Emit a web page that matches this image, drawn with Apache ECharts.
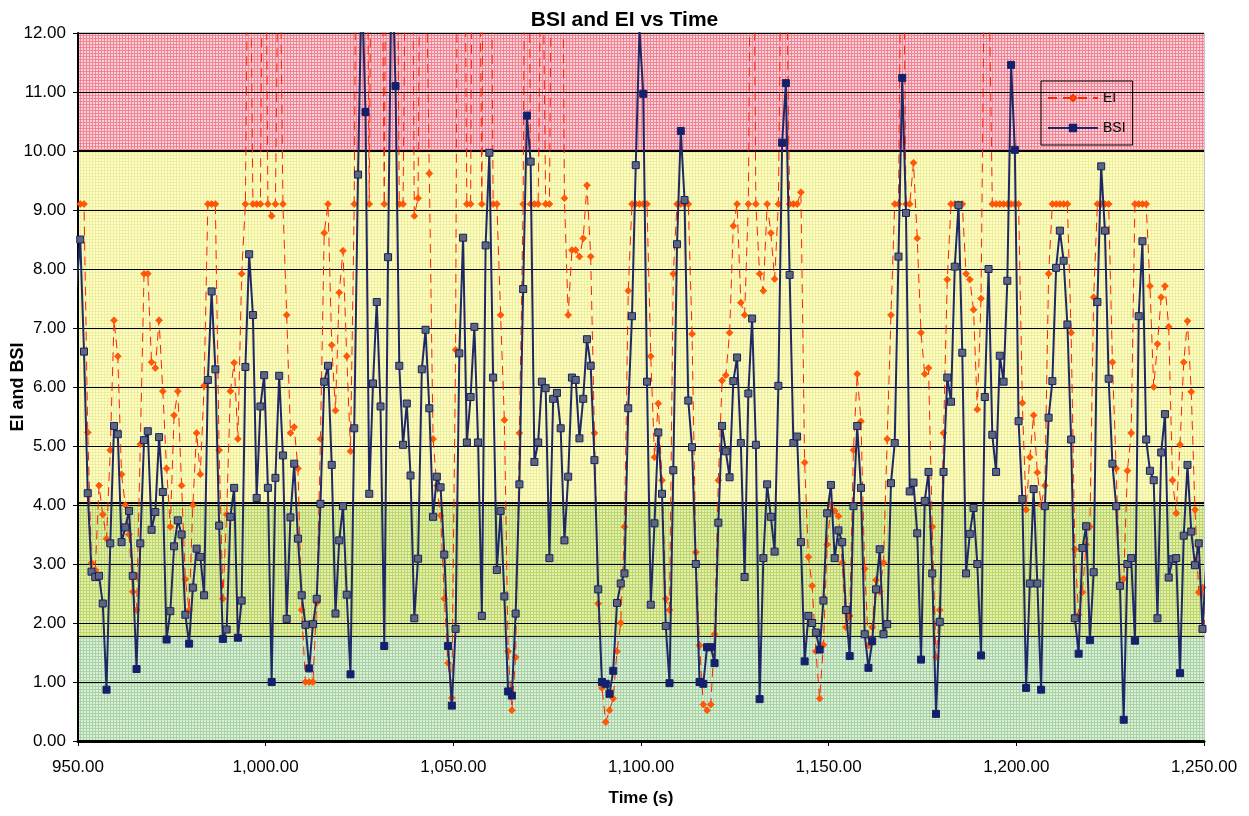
<!DOCTYPE html>
<html>
<head>
<meta charset="utf-8">
<title>BSI and EI vs Time</title>
<script src="https://cdn.jsdelivr.net/npm/echarts@6/dist/echarts.min.js"></script>
<style>
  html, body { margin: 0; padding: 0; background: #fff; }
  #chart { width: 1249px; height: 816px; }
</style>
</head>
<body>
<div id="chart"></div>
<script>
// samples are 1 s apart, first one just left of the axis start
const startTime = 949.6
const step = 1

const bsi = [
  7.7, 8.5, 6.6, 4.2, 2.87, 2.78, 2.8, 2.33, 0.87, 3.35,
  5.34, 5.2, 3.37, 3.62, 3.9, 2.8, 1.22, 3.35, 5.1, 5.25,
  3.58, 3.88, 5.15, 4.22, 1.72, 2.2, 3.3, 3.74, 3.5, 2.14,
  1.65, 2.6, 3.26, 3.12, 2.47, 6.12, 7.62, 6.3, 3.65, 1.73,
  1.89, 3.8, 4.29, 1.75, 2.38, 6.34, 8.25, 7.22, 4.12, 5.67,
  6.2, 4.29, 1.0, 4.46, 6.19, 4.84, 2.07, 3.79, 4.7, 3.43,
  2.47, 1.97, 1.23, 1.98, 2.41, 4.02, 6.09, 6.36, 4.68, 2.16,
  3.4, 3.98, 2.48, 1.13, 5.3, 9.6, 12.9, 10.66, 4.19, 6.06,
  7.44, 5.67, 1.61, 8.2, 13.4, 11.1, 6.36, 5.02, 5.72, 4.5,
  2.08, 3.09, 6.3, 6.97, 5.64, 3.8, 4.48, 4.3, 3.16, 1.61,
  0.6, 1.9, 6.57, 8.53, 5.06, 5.83, 7.02, 5.06, 2.12, 8.4,
  9.97, 6.16, 2.9, 3.9, 2.45, 0.84, 0.77, 2.16, 4.35, 7.66,
  10.6, 9.82, 4.73, 5.06, 6.09, 5.98, 3.1, 5.8, 5.9, 5.3,
  3.4, 4.48, 6.16, 6.12, 5.13, 5.8, 6.81, 6.36, 4.76, 2.57,
  1.0, 0.97, 0.8, 1.19, 2.34, 2.67, 2.84, 5.64, 7.2, 9.76,
  12.05, 10.97, 6.09, 2.31, 3.69, 5.23, 4.19, 1.95, 0.98, 4.59,
  8.42, 10.34, 9.17, 5.77, 4.98, 3.0, 1.0, 0.97, 1.59, 1.59,
  1.32, 3.7, 5.34, 4.91, 4.47, 6.1, 6.5, 5.05, 2.78, 5.89,
  7.16, 5.02, 0.71, 3.1, 4.35, 3.8, 3.21, 6.02, 10.14, 11.15,
  7.9, 5.05, 5.16, 3.37, 1.35, 2.12, 2.0, 1.84, 1.55, 2.38,
  3.86, 4.34, 3.1, 3.57, 3.37, 2.22, 1.44, 3.98, 5.34, 4.29,
  1.81, 1.24, 1.69, 2.57, 3.25, 1.81, 1.98, 4.37, 5.05, 8.21,
  11.24, 8.95, 4.23, 4.38, 3.52, 1.38, 4.07, 4.56, 2.84, 0.46,
  2.02, 4.56, 6.16, 5.75, 8.04, 9.08, 6.58, 2.84, 3.51, 3.95,
  3.0, 1.45, 5.83, 8.0, 5.19, 4.56, 6.53, 6.09, 7.8, 11.46,
  10.02, 5.42, 4.1, 0.9, 2.67, 4.27, 2.67, 0.87, 3.98, 5.48,
  6.1, 8.02, 8.65, 8.14, 7.06, 5.11, 2.08, 1.48, 3.27, 3.64,
  1.71, 2.86, 7.44, 9.74, 8.65, 6.14, 4.7, 3.98, 2.63, 0.36,
  3.0, 3.1, 1.7, 7.2, 8.47, 5.11, 4.58, 4.42, 2.08, 4.89,
  5.54, 2.77, 3.08, 3.1, 1.15, 3.48, 4.68, 3.55, 2.98, 3.35,
  1.9, 3.0
]

// values above 12 run off the top of the plot
const ei = [
  9.1, 9.1, 9.1, 5.23, 3.02, 2.9, 4.33, 3.84, 3.43, 4.93,
  7.13, 6.52, 4.52, 4.0, 3.5, 2.53, 2.22, 5.03, 7.92, 7.92,
  6.42, 6.32, 7.13, 5.93, 4.62, 3.63, 5.52, 5.93, 4.33, 2.74,
  2.22, 4.0, 5.22, 4.52, 6.02, 9.1, 9.1, 9.1, 4.93, 2.41,
  3.84, 5.93, 6.41, 5.12, 7.92, 9.1, 16, 9.1, 9.1, 9.1,
  18, 9.1, 8.9, 9.1, 15, 9.1, 7.22, 5.22, 5.32, 4.62,
  2.22, 1.0, 1.0, 1.0, 2.34, 5.12, 8.61, 9.1, 6.71, 5.6,
  7.6, 8.31, 6.52, 4.91, 9.1, 20, 22, 18, 9.1, 19,
  24, 17, 9.1, 21, 25, 18, 9.1, 9.1, 16, 20,
  8.9, 9.2, 19, 14, 9.62, 5.12, 4.33, 3.82, 2.41, 1.32,
  0.73, 6.63, 22, 18, 9.1, 9.1, 20, 17, 9.1, 24,
  19, 9.1, 9.1, 7.22, 5.44, 1.52, 0.52, 1.42, 5.22, 9.1,
  21, 9.1, 9.1, 9.1, 15, 9.1, 9.1, 17, 22, 19,
  9.2, 7.22, 8.32, 8.32, 8.21, 8.52, 9.42, 8.21, 5.22, 2.33,
  0.9, 0.32, 0.52, 0.72, 1.52, 2.0, 3.63, 7.63, 9.1, 9.1,
  9.1, 9.1, 9.1, 6.52, 4.81, 5.72, 4.42, 2.41, 2.22, 7.92,
  9.1, 9.1, 9.1, 9.1, 6.9, 3.2, 1.62, 0.62, 0.52, 0.62,
  1.81, 4.42, 6.11, 6.2, 6.92, 8.73, 9.1, 7.43, 7.22, 9.1,
  18, 9.1, 7.92, 7.63, 9.1, 8.61, 7.83, 9.1, 15, 14,
  9.1, 9.1, 9.1, 9.3, 4.72, 3.12, 2.63, 1.52, 0.72, 1.63,
  3.33, 4.0, 3.9, 3.81, 3.02, 1.93, 2.12, 4.93, 6.22, 5.42,
  2.92, 1.62, 1.93, 2.73, 2.53, 3.02, 5.12, 7.22, 9.1, 9.1,
  16, 9.1, 9.1, 9.8, 8.52, 6.92, 6.22, 6.32, 3.63, 1.42,
  2.22, 5.22, 7.82, 9.1, 9.1, 9.1, 9.1, 7.92, 7.82, 7.31,
  5.62, 7.5, 14, 13.5, 9.1, 9.1, 9.1, 9.1, 9.1, 9.1,
  9.1, 9.1, 5.73, 3.92, 4.81, 5.52, 4.55, 4.0, 4.33, 7.92,
  9.1, 9.1, 9.1, 9.1, 9.1, 6.92, 3.25, 2.14, 2.52, 3.33,
  3.63, 7.52, 9.1, 9.1, 9.1, 9.1, 6.42, 4.62, 2.63, 2.75,
  4.58, 5.22, 9.1, 9.1, 9.1, 9.1, 7.71, 6.0, 6.73, 7.52,
  7.71, 7.02, 4.42, 3.86, 5.02, 6.42, 7.12, 5.92, 3.92, 2.52,
  2.6, 1.5
]

// background zones: green / yellow-green / yellow / red
const bandLimits = [0, 1.78, 4.03, 10, 12]
const xMin = 950
const xMax = 1250
const xStep = 50
const yMin = 0
const yMax = 12
const yStep = 1

function hatch(bg, line) {
  const c = document.createElement("canvas")
  c.width = 3
  c.height = 3
  const g = c.getContext("2d")
  g.fillStyle = bg
  g.fillRect(0, 0, 3, 3)
  g.fillStyle = line
  g.fillRect(2, 0, 1, 3)
  g.fillRect(0, 2, 3, 1)
  return { image: c, repeat: "repeat" }
}

const bandFills = [
  hatch("#dcf0d8", "#a9d3a6"),
  hatch("#e6f0a6", "#bcd676"),
  hatch("#ffffc4", "#eeeea2"),
  hatch("#fbd0d6", "#ee8494"),
]

const bands = bandFills.map((fill, k) => [
  { yAxis: bandLimits[k], itemStyle: { color: fill } },
  { yAxis: bandLimits[k + 1] },
])

const NAVY = "#14206b"
const times = bsi.map((_, i) => +(startTime + i * step).toFixed(2))

const bsiData = bsi.map((v, i) => {
  const mid = v >= bandLimits[1] && v <= bandLimits[3]
  return mid
    ? { value: [times[i], v], itemStyle: { color: "#5f6678" } }
    : { value: [times[i], v] }
})
const eiData = ei.map((v, i) => [times[i], v])

const FONT = "Liberation Sans, Arial, sans-serif"
const chart = echarts.init(document.getElementById("chart"), null, { renderer: "canvas" })

chart.setOption({
  animation: false,
  backgroundColor: "#ffffff",
  textStyle: { fontFamily: FONT },
  title: {
    text: "BSI and EI vs Time",
    left: "center",
    top: 5,
    textStyle: { fontSize: 21, fontWeight: "bold", color: "#000", fontFamily: FONT },
  },
  legend: {
    orient: "vertical",
    left: 1041,
    top: 81,
    padding: [10, 7, 10, 6],
    itemWidth: 50,
    itemHeight: 8,
    itemGap: 16,
    borderColor: "#000",
    borderWidth: 1,
    backgroundColor: "transparent",
    textStyle: { fontSize: 14, color: "#000", fontFamily: FONT },
    data: ["EI", "BSI"],
  },
  grid: {
    left: 78,
    right: 45,
    top: 33,
    bottom: 75,
    containLabel: false,
    outerBoundsMode: "none",
    show: true,
    borderColor: "#8c8c8c",
    borderWidth: 1,
    backgroundColor: "transparent",
  },
  xAxis: {
    type: "value",
    min: xMin,
    max: xMax,
    interval: xStep,
    z: 1.5,
    name: "Time (s)",
    nameLocation: "middle",
    nameGap: 49,
    nameMoveOverlap: false,
    nameTextStyle: { fontSize: 17, fontWeight: "bold", color: "#000", fontFamily: FONT },
    axisLine: { show: true, lineStyle: { color: "#000", width: 3 } },
    axisTick: { show: true, length: 5, lineStyle: { color: "#000", width: 1 } },
    axisLabel: {
      margin: 18,
      fontSize: 17,
      color: "#000",
      fontFamily: FONT,
      formatter: (v) => v.toLocaleString("en-US", { minimumFractionDigits: 2, maximumFractionDigits: 2 }),
    },
    splitLine: { show: false },
  },
  yAxis: {
    type: "value",
    min: yMin,
    max: yMax,
    interval: yStep,
    z: 1.5,
    name: "EI and BSI",
    nameLocation: "middle",
    nameGap: 51,
    nameMoveOverlap: false,
    nameTextStyle: { fontSize: 18, fontWeight: "bold", color: "#000", fontFamily: FONT },
    axisLine: { show: true, lineStyle: { color: "#000", width: 2 } },
    axisTick: { show: true, length: 5, lineStyle: { color: "#000" } },
    axisLabel: {
      margin: 12,
      fontSize: 17,
      color: "#000",
      fontFamily: FONT,
      formatter: (v) => v.toFixed(2),
    },
    splitLine: { show: true, lineStyle: { color: "#000", width: 1 } },
  },
  series: [
    {
      name: "EI",
      type: "line",
      data: eiData,
      clip: true,
      showAllSymbol: true,
      symbol: "diamond",
      symbolSize: 7,
      color: "#ff2200",
      lineStyle: { color: "#ff2200", width: 1, type: [9, 6] },
      itemStyle: { color: "#ff5a00", borderColor: "#ff3300", borderWidth: 0.5 },
      markArea: { silent: true, z: 1, data: bands },
      markLine: {
        silent: true,
        symbol: "none",
        label: { show: false },
        z: 1.6,
        data: [
          { yAxis: bandLimits[1], lineStyle: { color: "#1a1a1a", width: 1, type: "solid" } },
          { yAxis: bandLimits[2], lineStyle: { color: "#000", width: 2, type: "solid" } },
          { yAxis: bandLimits[3], lineStyle: { color: "#000", width: 2, type: "solid" } },
        ],
      },
      z: 3,
    },
    {
      name: "BSI",
      type: "line",
      data: bsiData,
      clip: true,
      showAllSymbol: true,
      symbol: "rect",
      symbolSize: 7,
      color: NAVY,
      lineStyle: { color: "#1f2866", width: 2 },
      itemStyle: { color: NAVY, borderColor: NAVY, borderWidth: 1 },
      z: 4,
    },
  ],
})
</script>
</body>
</html>
